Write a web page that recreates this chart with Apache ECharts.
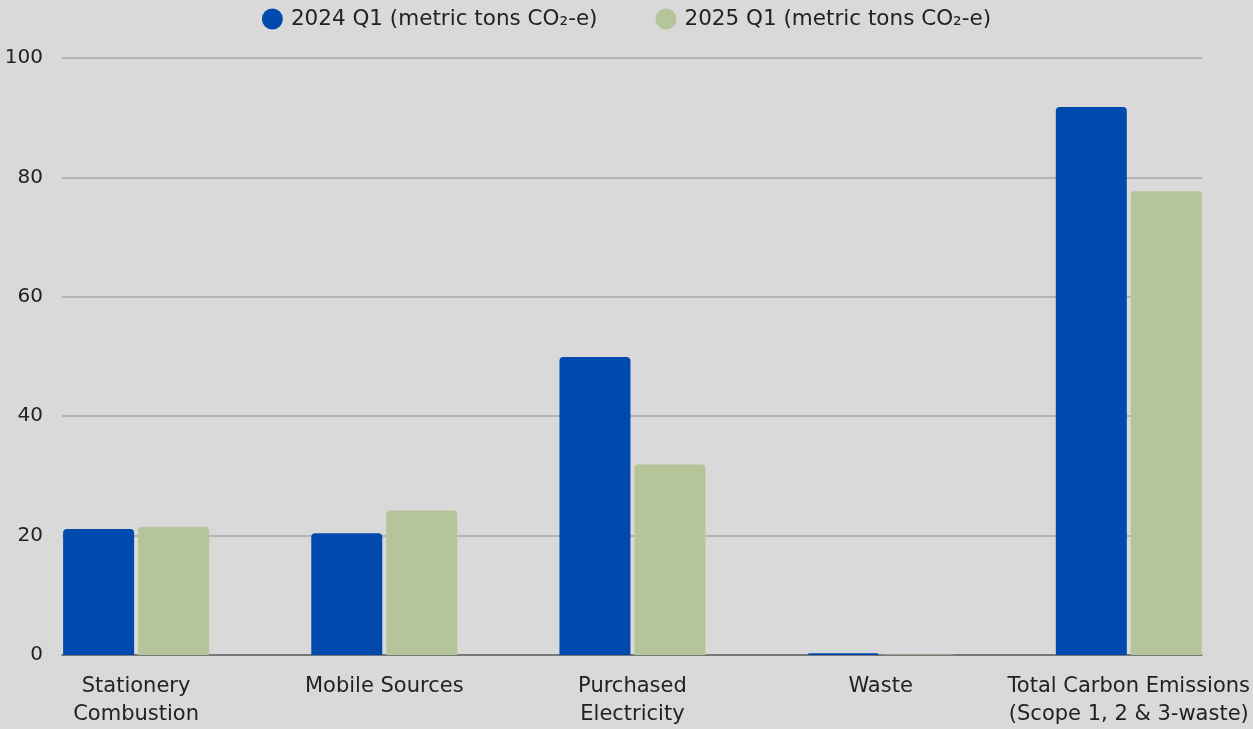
<!DOCTYPE html>
<html><head><meta charset="utf-8">
<script src="https://cdn.jsdelivr.net/npm/echarts@6/dist/echarts.min.js"></script>
<style>html,body{margin:0;padding:0;background:#d9d9d9}#c{width:1253px;height:729px}</style>
</head><body><div id="c"></div>
<script>
const categories = ['Stationery\nCombustion', 'Mobile Sources', 'Purchased\nElectricity', 'Waste', 'Total Carbon Emissions\n(Scope 1, 2 & 3-waste)'];
const series2024 = [21.1, 20.4, 49.9, 0.3, 91.8];
const series2025 = [21.5, 24.2, 31.9, 0.08, 77.7];
const seriesNames = ['2024 Q1 (metric tons CO₂-e)', '2025 Q1 (metric tons CO₂-e)'];
const yTicks = [0, 20, 40, 60, 80, 100];

const FONT = 'DejaVu Sans';
const chart = echarts.init(document.getElementById('c'));
chart.setOption({
  backgroundColor: '#d9d9d9',
  textStyle: { fontFamily: FONT },
  legend: {
    top: 3, left: 'center', itemGap: 58, icon: 'circle', itemWidth: 21, itemHeight: 21,
    textStyle: { fontFamily: FONT, fontSize: 21.5, color: '#222', padding: [0, 0, 0, 3] },
    data: seriesNames
  },
  grid: [
    { left: 62, right: 51, top: 58, bottom: 74 },
    { left: 12, right: 0, top: 58, bottom: 74 }
  ],
  xAxis: [
    { type: 'category', gridIndex: 0, data: categories, axisLine: { show: true, lineStyle: { color: '#666', width: 1.5 } },
      axisTick: { show: false }, axisLabel: { show: false } },
    { type: 'category', gridIndex: 1, data: categories, axisLine: { show: false }, axisTick: { show: false },
      axisLabel: { fontFamily: FONT, fontSize: 21, color: '#222', margin: 18, lineHeight: 28, interval: 0 } }
  ],
  yAxis: [
    { type: 'value', gridIndex: 0, min: yTicks[0], max: yTicks[yTicks.length - 1], interval: 20,
      axisLine: { show: false }, axisTick: { show: false },
      axisLabel: { fontFamily: FONT, fontSize: 20, color: '#222', margin: 19 },
      splitLine: { lineStyle: { color: '#a6a6a6', width: 1.5 } } },
    { type: 'value', gridIndex: 1, min: 0, max: 100, interval: 20, show: false, splitLine: { show: false } }
  ],
  series: [
    { name: seriesNames[0], type: 'bar', xAxisIndex: 1, yAxisIndex: 1, data: series2024, barWidth: 71, barGap: '5.6%',
      itemStyle: { color: '#004aad', borderRadius: [4, 4, 0, 0] } },
    { name: seriesNames[1], type: 'bar', xAxisIndex: 1, yAxisIndex: 1, data: series2025, barWidth: 71, barGap: '5.6%',
      itemStyle: { color: '#b5c599', borderRadius: [4, 4, 0, 0] } }
  ]
});
</script></body></html>
